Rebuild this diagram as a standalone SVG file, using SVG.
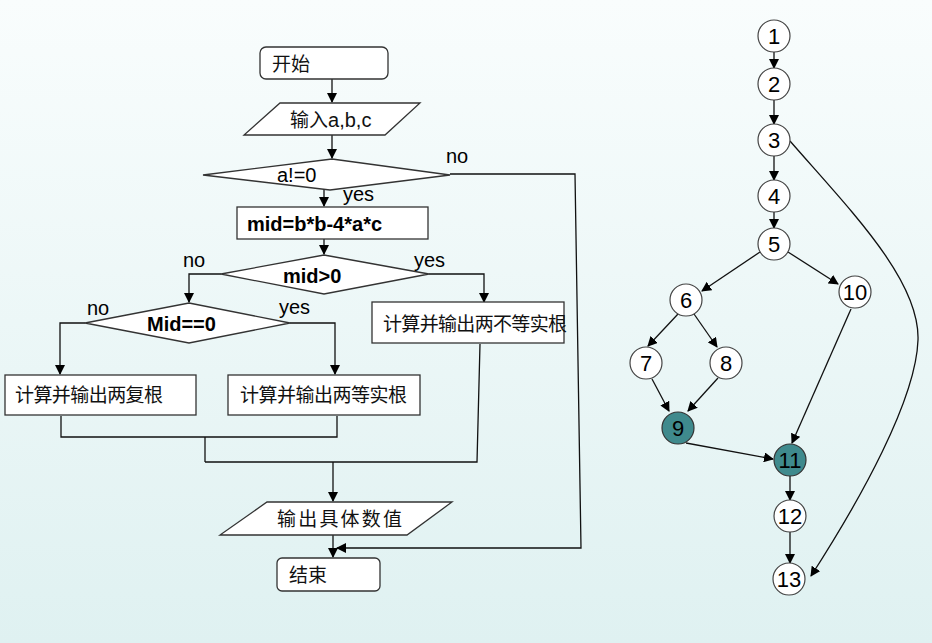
<svg xmlns="http://www.w3.org/2000/svg" width="932" height="643" viewBox="0 0 932 643">
<defs>
<linearGradient id="bg" x1="0" y1="0" x2="0" y2="1">
<stop offset="0" stop-color="#f9fdfd"/>
<stop offset="1" stop-color="#dff1f1"/>
</linearGradient>
<marker id="ar" markerWidth="10" markerHeight="10" refX="9" refY="5" orient="auto" markerUnits="userSpaceOnUse">
<path d="M0,0 L10,5 L0,10 z" fill="#000"/>
</marker>
<style>
.sh{fill:#fff;stroke:#333;stroke-width:1.3}
.ln{fill:none;stroke:#111;stroke-width:1.3}
.cn{font-family:"Noto Sans CJK SC","Liberation Sans",sans-serif;font-size:19px;fill:#111}
.lb{font-family:"Liberation Sans",Arial,sans-serif;font-size:20px;fill:#000}
.bd{font-family:"Liberation Sans",Arial,sans-serif;font-size:20px;font-weight:bold;fill:#000}
.nd{fill:#fff;stroke:#444;stroke-width:1.2}
.nf{fill:#3f8a8d;stroke:#333;stroke-width:1.2}
.nt{font-family:"Liberation Sans",Arial,sans-serif;font-size:22px;fill:#000;text-anchor:middle}
</style>
</defs>
<rect x="0" y="0" width="932" height="643" fill="url(#bg)"/>

<g id="connectors">
<line class="ln" x1="332" y1="79" x2="332" y2="102" marker-end="url(#ar)"/>
<line class="ln" x1="332" y1="135" x2="332" y2="158" marker-end="url(#ar)"/>
<polyline class="ln" points="450,174 575,174 581,548 337,548" marker-end="url(#ar)"/>
<line class="ln" x1="324" y1="190" x2="324" y2="206" marker-end="url(#ar)"/>
<line class="ln" x1="324" y1="239" x2="324" y2="254" marker-end="url(#ar)"/>
<polyline class="ln" points="221,274 189,274 189,302" marker-end="url(#ar)"/>
<polyline class="ln" points="429,274 484,274 484,302" marker-end="url(#ar)"/>
<polyline class="ln" points="85,323 60,323 60,374" marker-end="url(#ar)"/>
<polyline class="ln" points="290,323 335,323 335,374" marker-end="url(#ar)"/>
<polyline class="ln" points="61,416 61,437 337,437 337,416"/>
<line class="ln" x1="205" y1="437" x2="205" y2="462"/>
<polyline class="ln" points="480,344 477,462 205,462"/>
<line class="ln" x1="333" y1="462" x2="333" y2="501" marker-end="url(#ar)"/>
<line class="ln" x1="333" y1="535" x2="333" y2="557" marker-end="url(#ar)"/>

<line class="ln" x1="774" y1="52" x2="774" y2="68" marker-end="url(#ar)"/>
<line class="ln" x1="774" y1="100" x2="774" y2="124" marker-end="url(#ar)"/>
<line class="ln" x1="774" y1="156" x2="774" y2="180" marker-end="url(#ar)"/>
<line class="ln" x1="774" y1="212" x2="774" y2="228" marker-end="url(#ar)"/>
<line class="ln" x1="760" y1="252" x2="702" y2="291" marker-end="url(#ar)"/>
<line class="ln" x1="788" y1="252" x2="838" y2="284" marker-end="url(#ar)"/>
<path class="ln" d="M790,141 C850,210 920,280 918,340 C916,400 860,500 811,576" marker-end="url(#ar)"/>
<line class="ln" x1="678" y1="314" x2="648" y2="346" marker-end="url(#ar)"/>
<line class="ln" x1="694" y1="314" x2="717" y2="347" marker-end="url(#ar)"/>
<line class="ln" x1="652" y1="379" x2="669" y2="411" marker-end="url(#ar)"/>
<line class="ln" x1="718" y1="378" x2="688" y2="411" marker-end="url(#ar)"/>
<line class="ln" x1="686" y1="443" x2="773" y2="459" marker-end="url(#ar)"/>
<line class="ln" x1="851" y1="309" x2="792" y2="443" marker-end="url(#ar)"/>
<line class="ln" x1="790" y1="476" x2="790" y2="500" marker-end="url(#ar)"/>
<line class="ln" x1="790" y1="532" x2="790" y2="563" marker-end="url(#ar)"/>
</g>

<g id="start"><rect class="sh" x="260" y="47" width="128" height="32" rx="6"/><text class="cn" x="272" y="71" font-size="20">开始</text></g>
<g id="input"><polygon class="sh" points="280,103 420,103 385,135 244,135"/><text class="cn" x="290" y="127">输入<tspan font-family="Liberation Sans,Arial,sans-serif" font-size="20">a,b,c</tspan></text></g>
<g id="dec1"><polygon class="sh" points="332,159 450,175 330,190 203,175"/><text class="lb" x="277" y="182">a!=0</text>
<text class="lb" x="446" y="163">no</text><text class="lb" x="343" y="201">yes</text></g>
<g id="mid"><rect class="sh" x="237" y="207" width="191" height="32"/><text class="bd" x="247" y="231" font-size="20.5">mid=b*b-4*a*c</text></g>
<g id="dec2"><polygon class="sh" points="324,255 429,274 324,294 221,274"/><text class="bd" x="283" y="283">mid&gt;0</text>
<text class="lb" x="183" y="267">no</text><text class="lb" x="414" y="267">yes</text></g>
<g id="dec3"><polygon class="sh" points="189,303 290,323 189,343 85,323"/><text class="bd" x="147" y="331">Mid==0</text>
<text class="lb" x="87" y="315">no</text><text class="lb" x="279" y="314">yes</text></g>
<g id="r1"><rect class="sh" x="5" y="375" width="191" height="40"/><text class="cn" x="15" y="402" textLength="148">计算并输出两复根</text></g>
<g id="r2"><rect class="sh" x="228" y="375" width="192" height="40"/><text class="cn" x="240" y="402" textLength="167">计算并输出两等实根</text></g>
<g id="r3"><rect class="sh" x="372" y="302" width="192" height="41"/><text class="cn" x="383" y="331" textLength="184">计算并输出两不等实根</text></g>
<g id="output"><polygon class="sh" points="267,502 452,502 407,535 220,535"/><text class="cn" x="277" y="526" font-size="20.5" textLength="125">输出具体数值</text></g>
<g id="end"><rect class="sh" x="277" y="558" width="103" height="33" rx="5"/><text class="cn" x="289" y="582" font-size="20">结束</text></g>

<g id="n1"><circle class="nd" cx="774" cy="36" r="16"/><text class="nt" x="774" y="44">1</text></g>
<g id="n2"><circle class="nd" cx="774" cy="84" r="16"/><text class="nt" x="774" y="92">2</text></g>
<g id="n3"><circle class="nd" cx="774" cy="140" r="16"/><text class="nt" x="774" y="148">3</text></g>
<g id="n4"><circle class="nd" cx="774" cy="196" r="16"/><text class="nt" x="774" y="204">4</text></g>
<g id="n5"><circle class="nd" cx="774" cy="244" r="16"/><text class="nt" x="774" y="252">5</text></g>
<g id="n6"><circle class="nd" cx="686" cy="300" r="16"/><text class="nt" x="686" y="308">6</text></g>
<g id="n10"><circle class="nd" cx="855" cy="292" r="16"/><text class="nt" x="855" y="300">10</text></g>
<g id="n7"><circle class="nd" cx="646" cy="363" r="16"/><text class="nt" x="646" y="371">7</text></g>
<g id="n8"><circle class="nd" cx="726" cy="363" r="16"/><text class="nt" x="726" y="371">8</text></g>
<g id="n9"><circle class="nf" cx="678" cy="428" r="16"/><text class="nt" x="678" y="436">9</text></g>
<g id="n11"><circle class="nf" cx="790" cy="460" r="16"/><text class="nt" x="790" y="468">11</text></g>
<g id="n12"><circle class="nd" cx="790" cy="516" r="16"/><text class="nt" x="790" y="524">12</text></g>
<g id="n13"><circle class="nd" cx="789" cy="579" r="16"/><text class="nt" x="789" y="587">13</text></g>
</svg>
